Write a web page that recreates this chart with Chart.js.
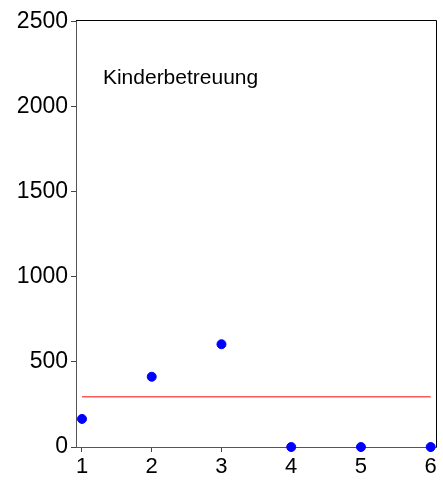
<!DOCTYPE html>
<html>
<head>
<meta charset="utf-8">
<script src="https://cdn.jsdelivr.net/npm/chart.js@4"></script>
<style>
html,body{margin:0;padding:0;background:#fff;}
#wrap{width:443px;height:482px;}
</style>
</head>
<body>
<div id="wrap"><canvas id="c" width="443" height="482"></canvas></div>
<script>
const categories = [1, 2, 3, 4, 5, 6];
const values = [165, 413, 604, 0, 0, 0];
const referenceValue = 296;
const xTickLabels = [1, 2, 3, 4, 5, 6];
const yTickLabels = [0, 500, 1000, 1500, 2000, 2500];
const panelTitle = "Kinderbetreuung";

const FONT = "'Liberation Sans', Arial, sans-serif";

const framePlugin = {
  id: 'frame',
  afterDraw(chart) {
    const a = chart.chartArea, ctx = chart.ctx;
    ctx.save();
    ctx.strokeStyle = '#000';
    ctx.lineWidth = 1;
    ctx.beginPath();
    ctx.moveTo(a.left, a.top + 0.5);
    ctx.lineTo(a.right + 0.5, a.top + 0.5);
    ctx.lineTo(a.right + 0.5, a.bottom);
    ctx.stroke();
    const xs = chart.scales.x, ys = chart.scales.y;
    ctx.fillStyle = '#000';
    ctx.font = '21px ' + FONT;
    ctx.textAlign = 'left';
    ctx.textBaseline = 'middle';
    ctx.fillText(panelTitle, xs.getPixelForValue(1.30), ys.getPixelForValue(2166));
    ctx.restore();
  }
};

new Chart(document.getElementById('c'), {
  type: 'scatter',
  data: {
    datasets: [
      {
        type: 'line',
        data: [{x: categories[0], y: referenceValue}, {x: categories[categories.length - 1], y: referenceValue}],
        borderColor: 'rgb(255,90,90)',
        borderWidth: 1.5,
        pointRadius: 0,
        fill: false,
        order: 2
      },
      {
        data: categories.map((c, i) => ({x: c, y: values[i]})),
        backgroundColor: '#0000ff',
        borderColor: '#0000ff',
        pointRadius: 4.5,
        pointHoverRadius: 4.5,
        clip: false,
        order: 1
      }
    ]
  },
  options: {
    responsive: false,
    animation: false,
    devicePixelRatio: 1,
    layout: {padding: {top: 20, right: 7, left: 0, bottom: 0}},
    plugins: {legend: {display: false}, tooltip: {enabled: false}},
    scales: {
      x: {
        type: 'linear',
        min: 0.914,
        max: 6.076,
        afterBuildTicks(axis) { axis.ticks = xTickLabels.map(v => ({value: v})); },
        afterFit(axis) { axis.height = 35; },
        grid: {drawOnChartArea: false, drawTicks: true, tickLength: 5, color: '#444'},
        border: {color: '#555', width: 1},
        ticks: {color: '#000', font: {size: 22, family: FONT}, padding: 2, maxRotation: 0,
                callback: v => String(v)}
      },
      y: {
        type: 'linear',
        min: 0,
        max: 2510,
        afterBuildTicks(axis) { axis.ticks = yTickLabels.map(v => ({value: v})); },
        afterFit(axis) { axis.width = 76; },
        grid: {drawOnChartArea: false, drawTicks: true, tickLength: 5, color: '#444'},
        border: {color: '#555', width: 1},
        ticks: {color: '#000', font: {size: 23, family: FONT}, padding: 3,
                callback: v => String(v)}
      }
    }
  },
  plugins: [framePlugin]
});
</script>
</body>
</html>
